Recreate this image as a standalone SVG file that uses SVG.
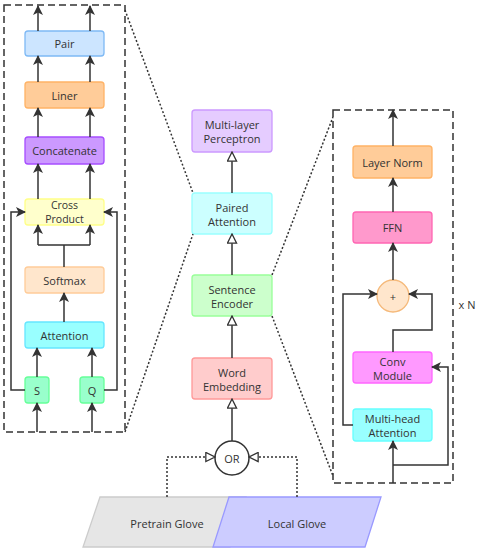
<svg xmlns="http://www.w3.org/2000/svg" width="479" height="550" viewBox="0 0 479 550">
<defs>
<marker id="fa" viewBox="0 0 10 10" refX="9" refY="5" markerWidth="10" markerHeight="10" markerUnits="userSpaceOnUse" orient="auto">
<path d="M0,0 L10,5 L0,10 L2.5,5 Z" fill="#333"/>
</marker>
<marker id="ha" viewBox="0 0 12 12" refX="11" refY="6" markerWidth="11" markerHeight="11" markerUnits="userSpaceOnUse" orient="auto">
<path d="M1,1 L11,6 L1,11 Z" fill="#fff" stroke="#333" stroke-width="1.4"/>
</marker>
</defs>
<style>
text{font-family:"Open Sans","Noto Sans","DejaVu Sans",sans-serif;font-size:11px;fill:#333;text-anchor:middle;dominant-baseline:central}
.ln{fill:none;stroke:#333;stroke-width:1.5}
.fa{marker-end:url(#fa)}
.ha{marker-end:url(#ha)}
.dash{fill:none;stroke:#333;stroke-width:1.5;stroke-dasharray:7 4}
.dot{fill:none;stroke:#333;stroke-width:1.5;stroke-dasharray:2 2}
rect{stroke-width:1.3}
</style>
<rect class="dash" x="4" y="5" width="121" height="427"/>
<rect class="dash" x="333" y="110" width="120" height="373"/>
<g id="pair"><rect x="25" y="31" width="79" height="25" rx="3" fill="#cce5ff" stroke="#7eb9f5"/><text x="64.5" y="43.5">Pair</text></g>
<g id="liner"><rect x="25" y="82" width="79" height="26" rx="3" fill="#ffcc99" stroke="#ffb366"/><text x="64.5" y="95">Liner</text></g>
<g id="concatenate"><rect x="25" y="137" width="79" height="27" rx="3" fill="#cc99ff" stroke="#a64dff"/><text x="64.5" y="150.5">Concatenate</text></g>
<g id="cross"><rect x="25" y="199" width="79" height="26" rx="3" fill="#ffffcc" stroke="#ffff88"/><text x="64.5" y="205" style="font-size:10.5px">Cross</text><text x="64.5" y="219" style="font-size:10.5px">Product</text></g>
<g id="softmax"><rect x="25" y="267" width="79" height="26" rx="3" fill="#ffe6cc" stroke="#ffcc99"/><text x="64.5" y="280">Softmax</text></g>
<g id="attention"><rect x="25" y="322" width="79" height="26" rx="3" fill="#99ffff" stroke="#66e6ff"/><text x="64.5" y="335">Attention</text></g>
<g id="s"><rect x="25" y="377" width="24" height="26" rx="3" fill="#99ffcc" stroke="#66ff99"/><text x="37" y="390">S</text></g>
<g id="q"><rect x="80" y="377" width="24" height="26" rx="3" fill="#99ffcc" stroke="#66ff99"/><text x="92" y="390">Q</text></g>
<g id="mlp"><rect x="192" y="110" width="80" height="42" rx="3" fill="#e5ccff" stroke="#cc99ff"/><text x="232" y="124">Multi-layer</text><text x="232" y="138">Perceptron</text></g>
<g id="paired"><rect x="192" y="193" width="80" height="41" rx="3" fill="#ccffff" stroke="#99ffff"/><text x="232" y="207">Paired</text><text x="232" y="221">Attention</text></g>
<g id="sentence"><rect x="192" y="275" width="80" height="41" rx="3" fill="#ccffcc" stroke="#99ff99"/><text x="232" y="289">Sentence</text><text x="232" y="303">Encoder</text></g>
<g id="word"><rect x="192" y="358" width="80" height="41" rx="3" fill="#ffcccc" stroke="#ff9999"/><text x="232" y="372">Word</text><text x="232" y="386">Embedding</text></g>
<g id="or"><circle cx="232" cy="458" r="17" fill="#fff" stroke="#333" stroke-width="1.5"/><text x="232" y="458">OR</text></g>
<g id="pretrain"><path d="M100,497 L246,497 L230,547 L83,547 Z" fill="#e6e6e6" stroke="#cccccc" stroke-width="1.3"/><text x="167" y="523">Pretrain Glove</text></g>
<g id="local"><path d="M229,497 L381,497 L365,547 L213,547 Z" fill="#ccccff" stroke="#9999ff" stroke-width="1.3"/><text x="297" y="523">Local Glove</text></g>
<g id="layernorm"><rect x="353" y="146" width="79" height="32" rx="3" fill="#ffcc99" stroke="#ffb366"/><text x="392.5" y="162">Layer Norm</text></g>
<g id="ffn"><rect x="353" y="212" width="79" height="31" rx="3" fill="#ff99cc" stroke="#ff66b3"/><text x="392.5" y="227.5">FFN</text></g>
<g id="plus"><circle cx="393" cy="296" r="16" fill="#ffe6cc" stroke="#f5b97a" stroke-width="1.3"/><text x="393" y="296">+</text></g>
<g id="conv"><rect x="353" y="352" width="79" height="31" rx="3" fill="#ff99ff" stroke="#ff66ff"/><text x="392.5" y="361">Conv</text><text x="392.5" y="375">Module</text></g>
<g id="mha"><rect x="353" y="409" width="79" height="32" rx="3" fill="#99ffff" stroke="#66ffff"/><text x="392.5" y="418">Multi-head</text><text x="392.5" y="432">Attention</text></g>
<text x="467" y="304">x N</text>
<g id="connectors">
<path class="ln fa" d="M38,31 V6"/><path class="ln fa" d="M90,31 V6"/>
<path class="ln fa" d="M38,82 V56"/><path class="ln fa" d="M90,82 V56"/>
<path class="ln fa" d="M38,137 V108"/><path class="ln fa" d="M90,137 V108"/>
<path class="ln fa" d="M38,199 V164"/><path class="ln fa" d="M90,199 V164"/>
<path class="ln" d="M64,267 V245 M38,245 H90"/>
<path class="ln fa" d="M38,245 V225"/><path class="ln fa" d="M90,245 V225"/>
<path class="ln fa" d="M64,322 V293"/>
<path class="ln fa" d="M37,377 V348"/><path class="ln fa" d="M92,377 V348"/>
<path class="ln fa" d="M37,432 V403"/><path class="ln fa" d="M92,432 V403"/>
<path class="ln fa" d="M25,390 H11 V212 H25"/>
<path class="ln fa" d="M104,390 H117 V212 H104"/>
<path class="ln ha" d="M232,193 V152"/>
<path class="ln ha" d="M232,275 V234"/>
<path class="ln ha" d="M232,358 V316"/>
<path class="ln ha" d="M232,441 V399"/>
<path class="dot ha" d="M167,497 V457 H215"/>
<path class="dot ha" d="M297,497 V457 H249"/>
<path class="dot" d="M125,10 L193,193"/>
<path class="dot" d="M125,432 L193,234"/>
<path class="dot" d="M272,275 L333,117"/>
<path class="dot" d="M272,316 L333,476"/>
<path class="ln fa" d="M393,146 V110"/>
<path class="ln fa" d="M393,212 V178"/>
<path class="ln fa" d="M393,280 V243"/>
<path class="ln fa" d="M353,425 H343 V294 H377"/>
<path class="ln fa" d="M393,352 V330 H432 V294 H409"/>
<path class="ln fa" d="M393,483 V441"/>
<path class="ln fa" d="M393,465 H448 V367 H432"/>
</g>
</svg>
